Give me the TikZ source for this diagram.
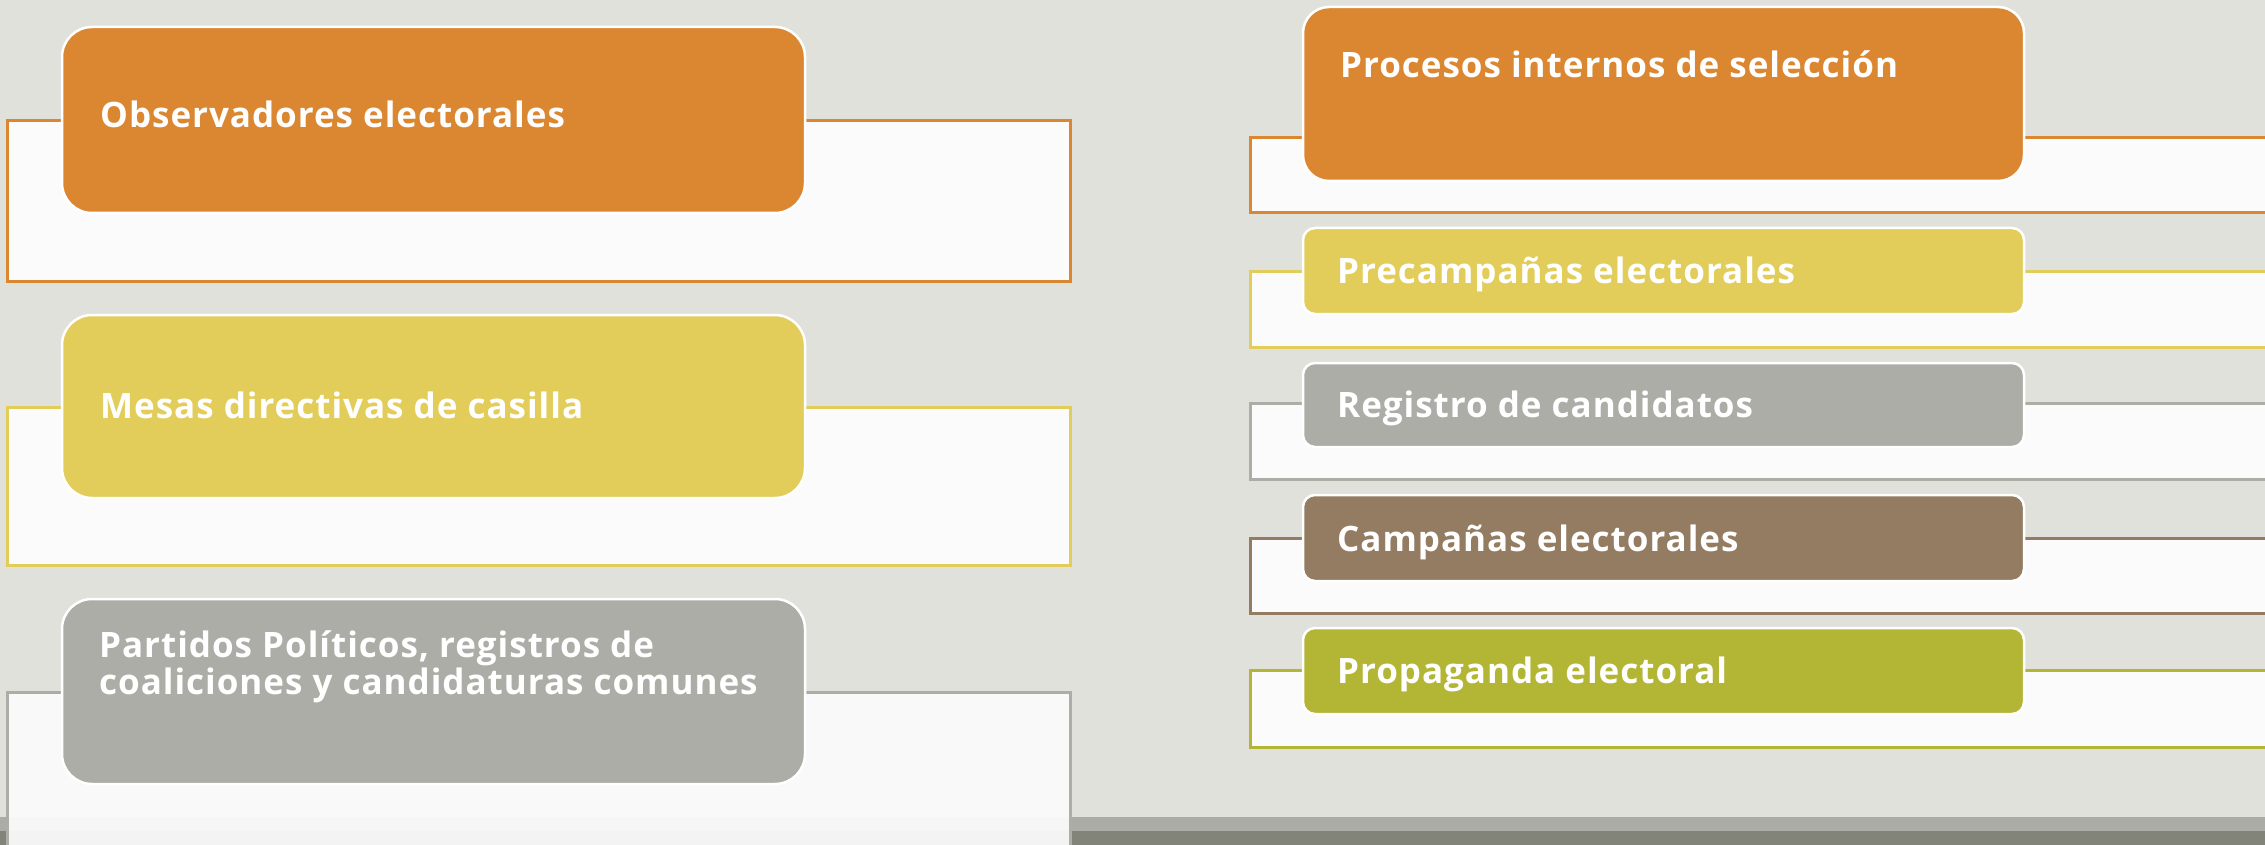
\documentclass[tikz,border=0pt]{standalone}
\usepackage{fontspec}
\setmainfont{Open Sans}[LetterSpace=2.8]
\definecolor{bgc}{HTML}{E0E1DB}
\definecolor{corange}{HTML}{DB8731}
\definecolor{cyellow}{HTML}{E2CD5B}
\definecolor{cgray}{HTML}{ADADA7}
\definecolor{cbrown}{HTML}{937C61}
\definecolor{cgreen}{HTML}{B3B535}
\definecolor{rectfill}{HTML}{FBFBFB}
\definecolor{bandlight}{HTML}{ABACA6}
\definecolor{banddark}{HTML}{828379}
\tikzset{
  panel/.style={draw=#1, line width=3pt, fill=rectfill},
  tab/.style={fill=#1, draw=white, line width=2.5pt},
  tabtext/.style={anchor=base west, inner sep=0pt, text=white, font=\bfseries\fontsize{35}{37}\selectfont, align=left}
}
\begin{document}
\begin{tikzpicture}[x=1pt,y=-1pt]
\useasboundingbox (0,0) rectangle (2265,845);
\fill[bgc] (0,0) rectangle (2265,845);
% bottom band
\fill[bandlight] (0,817) rectangle (2265,831);
\fill[banddark] (0,831) rectangle (2265,845);

% left column panels
\path[panel=corange] (7,121) rectangle (1070,281);
\path[panel=cyellow] (7,407) rectangle (1070,565);
\path[panel=cgray, fill opacity=0.94] (7,692) rectangle (1070,870);

% left column tabs
\path[tab=corange, rounded corners=30pt] (62,27) rectangle (805,213);
\path[tab=cyellow, rounded corners=30pt] (62,315) rectangle (805,498);
\path[tab=cgray, rounded corners=30pt] (62,599) rectangle (805,784);

\node[tabtext] (obs) at (100,128) {Observadores electorales};
\node[tabtext] (mesas) at (100,418) {Mesas directivas de casilla};
\node[tabtext] (partidos) at (99,694) {Partidos Políticos, registros de\\coaliciones y candidaturas comunes};

% right column panels
\path[panel=corange] (1250,138) rectangle (2290,213);
\path[panel=cyellow] (1250,271) rectangle (2290,347);
\path[panel=cgray] (1250,403) rectangle (2290,479);
\path[panel=cbrown] (1250,538) rectangle (2290,613);
\path[panel=cgreen] (1250,670) rectangle (2290,747);

% right column tabs
\path[tab=corange, rounded corners=26pt] (1303,7) rectangle (2024,181);
\path[tab=cyellow, rounded corners=12pt] (1303,228) rectangle (2024,314);
\path[tab=cgray, rounded corners=12pt] (1303,363) rectangle (2024,447);
\path[tab=cbrown, rounded corners=12pt] (1303,495) rectangle (2024,581);
\path[tab=cgreen, rounded corners=12pt] (1303,628) rectangle (2024,714);

\node[tabtext] (proc) at (1340,78) {Procesos internos de selección};
\node[tabtext] (precamp) at (1337,283) {Precampañas electorales};
\node[tabtext] (registro) at (1337,417) {Registro de candidatos};
\node[tabtext] (camp) at (1337,551) {Campañas electorales};
\node[tabtext] (prop) at (1337,683) {Propaganda electoral};
\end{tikzpicture}
\end{document}
